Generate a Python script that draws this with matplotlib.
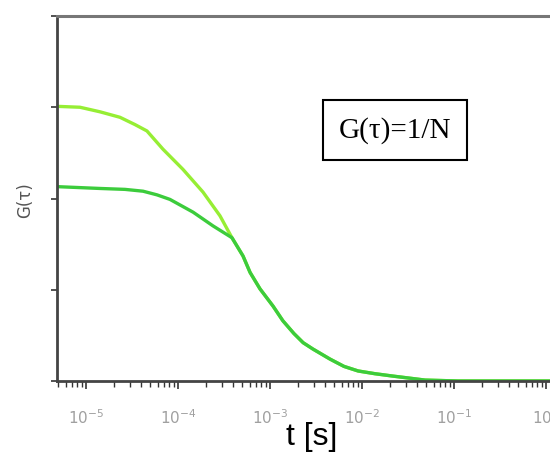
import numpy as np
import matplotlib
matplotlib.use('Agg')
import matplotlib.pyplot as plt
from matplotlib.ticker import LogLocator, NullFormatter

# correlation curves, lag time in s
t_high = [4.84e-6, 8.6e-6, 1.42e-5, 2.34e-5, 3.41e-5, 4.6e-5, 6.87e-5,
          1.13e-4, 1.87e-4, 2.86e-4, 3.67e-4, 3.86e-4]
g_high = [3.01, 3.00, 2.95, 2.89, 2.81, 2.74, 2.54,
          2.32, 2.07, 1.81, 1.61, 1.57]

t_low = [4.84e-6, 1.42e-5, 2.65e-5, 4.17e-5, 5.91e-5, 8.18e-5, 1.46e-4, 2.4e-4, 3.86e-4]
g_low = [2.13, 2.11, 2.10, 2.08, 2.04, 1.99, 1.85, 1.70, 1.57]

# both curves share the same decay past the crossing
t_tail = [5.09e-4, 6.07e-4, 7.78e-4, 1.08e-3, 1.38e-3, 1.82e-3, 2.29e-3, 2.93e-3,
          4.49e-3, 6.37e-3, 9.06e-3, 0.0138, 0.0212, 0.0484, 0.110, 1.10]
g_tail = [1.37, 1.19, 1.01, 0.82, 0.66, 0.52, 0.42, 0.35,
          0.24, 0.16, 0.11, 0.08, 0.055, 0.01, 0.0, 0.0]

xticks = [1e-5, 1e-4, 1e-3, 1e-2, 1e-1, 1e0]
xticklabels = ['$10^{-5}$', '$10^{-4}$', '$10^{-3}$', '$10^{-2}$', '$10^{-1}$', '$10^{0}$']
yticks = [0, 1, 2, 3, 4]

fig = plt.figure(figsize=(5.5, 4.64), dpi=100)
ax = fig.add_axes([57/550, 82/464, 493/550, 365/464])

ax.plot(t_high + t_tail, g_high + g_tail, color='#96ee34', lw=2.4,
        solid_joinstyle='round')
ax.plot(t_low + t_tail, g_low + g_tail, color='#3ccc3c', lw=2.4,
        solid_joinstyle='round')

ax.set_xscale('log')
ax.set_xlim(10**-5.315, 10**0.043)
ax.set_ylim(0, 4)

ax.set_xticks(xticks)
ax.set_xticklabels(xticklabels, fontsize=11, color='#a0a0a0')
ax.xaxis.set_minor_locator(LogLocator(base=10, subs=np.arange(2, 10)))
ax.xaxis.set_minor_formatter(NullFormatter())
ax.tick_params(axis='x', which='major', length=6, width=1.2, color='#333333', pad=13)
ax.tick_params(axis='x', which='minor', length=4, width=1.0, color='#333333')

ax.set_yticks(yticks)
ax.set_yticklabels([])
ax.tick_params(axis='y', length=4, width=1.2, color='#333333')

ax.spines['left'].set_color('#444444')
ax.spines['left'].set_linewidth(2)
ax.spines['bottom'].set_color('#444444')
ax.spines['bottom'].set_linewidth(2)
ax.spines['top'].set_color('#777777')
ax.spines['top'].set_linewidth(2.2)
ax.spines['right'].set_visible(False)

fig.text(25/550, 1 - 200/464, 'G(τ)', rotation=90, fontsize=12, color='#555555',
         ha='center', va='center')
fig.text(312/550, 1 - 437/464, 't [s]', fontsize=23, color='black',
         family='Liberation Sans', ha='center', va='center')

fig.text(395/550, 1 - 131/464, 'G(τ)=1/N', fontsize=21, family='Liberation Serif',
         ha='center', va='center',
         bbox=dict(boxstyle='square,pad=0.55', facecolor='white', edgecolor='black', lw=1.5))

fig.savefig('out.png', dpi=100)
